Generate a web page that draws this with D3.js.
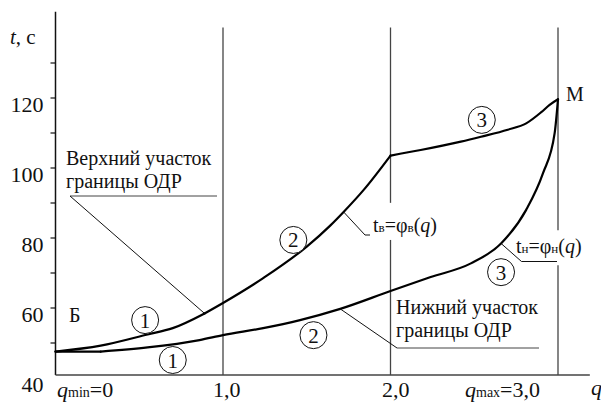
<!DOCTYPE html>
<html>
<head>
<meta charset="utf-8">
<script src="https://cdn.jsdelivr.net/npm/d3@7"></script>
<style>
  html, body { margin: 0; padding: 0; background: #fff; }
  svg { display: block; }
  svg text { font-family: "Times New Roman", Times, "Liberation Serif", Tinos, "Noto Serif", "DejaVu Serif", FreeSerif, serif; }
</style>
</head>
<body>
<svg id="chart" width="601" height="406"></svg>
<script>
// Upper boundary of the admissible region, t_в = φ_в(q)
const qUpper = [0, 0.27, 0.55, 0.70, 0.89, 1.0, 1.24, 1.5, 1.64, 1.72, 1.84, 2.0, 2.18, 2.42, 2.54, 2.70, 2.81, 2.90, 2.95, 3.0];
const tUpper = [47.4, 49.1, 52.3, 54.1, 58.3, 61.3, 68.4, 77.4, 83.4, 87.3, 93.6, 103.4, 105.0, 107.4, 108.8, 110.8, 112.6, 115.8, 117.9, 119.5];

// Lower boundary of the admissible region, t_н = φ_н(q)
const qLower = [0, 0.27, 0.55, 0.86, 1.0, 1.24, 1.46, 1.70, 2.0, 2.24, 2.48, 2.66, 2.81, 2.91, 2.98, 3.0];
const tLower = [47.4, 47.4, 48.6, 50.7, 52.1, 54.1, 56.4, 59.6, 64.7, 68.7, 72.6, 78.3, 87.9, 98.3, 109.8, 119.5];

// Indices where a boundary changes direction sharply
const upperBreaks = [4, 11];
const lowerBreaks = [1];

// Axis ticks
const tTicks = [50, 60, 70, 80, 90, 100, 110, 120, 130];
const tLabels = [40, 60, 80, 100, 120];
const qMarks = [1, 2, 3];

// Section numbers along each boundary: [q, t, label]
const upperSections = [[0.535, 56.4, "1"], [1.42, 79.3, "2"], [2.545, 113.6, "3"]];
const lowerSections = [[0.70, 45.0, "1"], [1.54, 52.1, "2"], [2.66, 70.1, "3"]];

const FONT = "'Times New Roman', Times, 'Liberation Serif', Tinos, 'Noto Serif', 'DejaVu Serif', FreeSerif, serif";
const svg = d3.select("#chart").attr("font-family", FONT);
const x = d3.scaleLinear().domain([0, 3]).range([55.5, 558]);
const y = d3.scaleLinear().domain([40, 120]).range([377.5, 97.5]);

const ink = "#111";
const gray = "#444";

function text(xp, yp, size) {
  return svg.append("text").attr("x", xp).attr("y", yp)
    .attr("font-family", FONT).attr("font-size", size).attr("fill", ink);
}

// Vertical guide lines at q = 1, 2, 3 (broken where formula labels sit)
const guides = [
  { q: 1, segs: [[40.7, 140]] },
  { q: 2, segs: [[40.7, 79.3], [89.9, 140]] },
  { q: 3, segs: [[40.7, 72.1], [82.1, 140]] }
];
guides.forEach(g => g.segs.forEach(s => {
  svg.append("line")
    .attr("x1", x(g.q)).attr("x2", x(g.q))
    .attr("y1", y(s[0])).attr("y2", y(s[1]))
    .attr("stroke", gray).attr("stroke-width", 1.3);
}));

// Y axis
const yAxis = d3.axisLeft(y).tickValues(tTicks).tickSize(5).tickFormat("");
const gy = svg.append("g").attr("transform", `translate(${x(0)},0)`).call(yAxis);
gy.select(".domain").remove();
gy.selectAll(".tick line").attr("stroke", ink).attr("stroke-width", 1.2);
svg.append("line")
  .attr("x1", x(0)).attr("x2", x(0))
  .attr("y1", y(40.7)).attr("y2", y(144.5))
  .attr("stroke", ink).attr("stroke-width", 1.5);

// X axis
svg.append("line")
  .attr("x1", x(0)).attr("x2", x(3.19))
  .attr("y1", y(40.7)).attr("y2", y(40.7))
  .attr("stroke", gray).attr("stroke-width", 1.6);

// Y tick labels
tLabels.forEach(d => text(43.5, y(d) + 14, 22).attr("text-anchor", "end").text(d));

// Y axis title
const yt = text(10, 44, 21);
yt.append("tspan").attr("font-style", "italic").text("t");
yt.append("tspan").text(", с");

// X tick labels
const q0 = text(57, 397, 22);
q0.append("tspan").attr("font-style", "italic").text("q");
q0.append("tspan").attr("font-size", 14).text("min");
q0.append("tspan").text("=0");
text(x(qMarks[0]) - 10, 397, 22).text("1,0");
text(x(qMarks[1]) - 8.5, 397, 22).text("2,0");
const q3 = text(465, 397, 22);
q3.append("tspan").attr("font-style", "italic").text("q");
q3.append("tspan").attr("font-size", 14).text("max");
q3.append("tspan").text("=3,0");
text(591, 395, 22).attr("font-style", "italic").text("q");

// Boundary curves, smoothed between sharp corners
const line = d3.line().x(d => x(d[0])).y(d => y(d[1])).curve(d3.curveMonotoneX);
function drawBoundary(qs, ts, breaks) {
  const pts = qs.map((q, i) => [q, ts[i]]);
  const cuts = [0, ...breaks, pts.length - 1];
  for (let k = 0; k < cuts.length - 1; k++) {
    svg.append("path")
      .datum(pts.slice(cuts[k], cuts[k + 1] + 1))
      .attr("d", line).attr("fill", "none")
      .attr("stroke", "#000").attr("stroke-width", 2.2)
      .attr("stroke-linejoin", "round").attr("stroke-linecap", "round");
  }
}
drawBoundary(qUpper, tUpper, upperBreaks);
drawBoundary(qLower, tLower, lowerBreaks);

// Section circles
[...upperSections, ...lowerSections].forEach(([q, t, lab]) => {
  const cx = x(q), cy = y(t);
  svg.append("circle").attr("cx", cx).attr("cy", cy).attr("r", 13.5)
    .attr("fill", "#fff").attr("stroke", ink).attr("stroke-width", 1);
  text(cx, cy + 7.5, 21).attr("text-anchor", "middle").text(lab);
});

// Point labels Б and М
text(69, 322, 20).text("Б");
text(566, 101, 20).text("М");

// Callout: upper part of the boundary
const upAnchor = [qUpper[4], tUpper[4]];
text(66, 165, 20).text("Верхний участок");
text(66, 188, 20).text("границы ОДР");
svg.append("line").attr("x1", 70).attr("x2", 217).attr("y1", 196).attr("y2", 196)
  .attr("stroke", gray).attr("stroke-width", 1);
svg.append("line").attr("x1", 70).attr("y1", 196).attr("x2", x(upAnchor[0])).attr("y2", y(upAnchor[1]))
  .attr("stroke", ink).attr("stroke-width", 1);

// Callout: lower part of the boundary
const lowAnchor = [qLower[7], tLower[7]];
text(396, 314, 20).text("Нижний участок");
text(396, 337, 20).text("границы ОДР");
svg.append("line").attr("x1", 397).attr("x2", 539).attr("y1", 348).attr("y2", 348)
  .attr("stroke", gray).attr("stroke-width", 1);
svg.append("line").attr("x1", 397).attr("y1", 348).attr("x2", x(lowAnchor[0])).attr("y2", y(lowAnchor[1]))
  .attr("stroke", ink).attr("stroke-width", 1);

// Formula labels with leaders
function formula(xp, yp, sub) {
  const t = text(xp, yp, 20);
  t.append("tspan").text("t");
  t.append("tspan").attr("font-size", 13).text(sub);
  t.append("tspan").text("=φ");
  t.append("tspan").attr("font-size", 13).text(sub);
  t.append("tspan").text("(");
  t.append("tspan").attr("font-style", "italic").text("q");
  t.append("tspan").text(")");
}
const fu = [qUpper[9], tUpper[9]];
svg.append("polyline")
  .attr("points", `${x(fu[0])},${y(fu[1])} 365,235 370,235`)
  .attr("fill", "none").attr("stroke", ink).attr("stroke-width", 1);
formula(373, 232, "в");

const fl = [qLower[11], tLower[11]];
svg.append("polyline")
  .attr("points", `${x(fl[0])},${y(fl[1])} 521.5,261.5 557,261.5`)
  .attr("fill", "none").attr("stroke", ink).attr("stroke-width", 1);
formula(516, 253, "н");
</script>
</body>
</html>
